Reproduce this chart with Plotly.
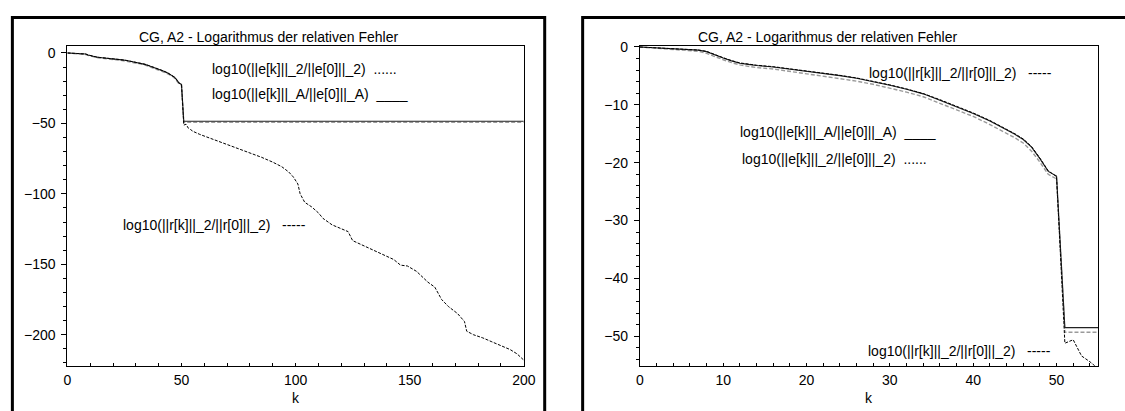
import plotly.graph_objects as go

# ---------------- data ----------------
k_pre = [0, 2, 4, 6, 7, 8, 9, 10, 11, 12, 13, 14, 16, 18, 20, 22, 24, 26, 28, 30,
         32, 34, 36, 38, 40, 42, 44, 45, 46, 47, 48, 49, 50]
eA_pre = [0, -0.15, -0.3, -0.45, -0.55, -0.8, -1.4, -1.9, -2.4, -2.8, -3.0, -3.2, -3.45,
          -3.8, -4.2, -4.55, -4.95, -5.4, -5.95, -6.6, -7.3, -8.1, -9.2, -10.3, -11.5,
          -12.8, -14.3, -15.1, -16.0, -17.3, -19.3, -21.5, -22.3]
e2_pre = [0, -0.2, -0.4, -0.6, -0.75, -1.1, -1.7, -2.2, -2.7, -3.1, -3.35, -3.55, -3.8,
          -4.2, -4.6, -5.0, -5.4, -5.9, -6.45, -7.1, -7.8, -8.6, -9.7, -10.8, -12.0,
          -13.4, -14.9, -15.7, -16.6, -18.0, -19.9, -22.0, -22.8]
r_pre = [0, -0.12, -0.28, -0.42, -0.52, -0.75, -1.35, -1.85, -2.35, -2.75, -2.95, -3.15,
         -3.4, -3.75, -4.15, -4.5, -4.9, -5.35, -5.9, -6.55, -7.25, -8.05, -9.1, -10.2,
         -11.4, -12.7, -14.2, -15.0, -15.9, -17.2, -19.2, -21.4, -22.4]

k_flat = [51, 200]
eA_flat = [-48.5, -48.5]
e2_flat = [-49.3, -49.3]

k_r_post = [51, 52, 53, 54, 55, 58, 62, 65, 70, 75, 80, 85, 90, 94, 97, 99, 101, 102,
            104, 107, 110, 112, 116, 120, 123, 125, 130, 135, 140, 143, 146, 149, 153,
            158, 161, 164, 167, 171, 174, 175, 178, 182, 186, 190, 194, 197, 200]
r_post = [-51.2, -50.6, -53.4, -54.4, -55.6, -57.8, -60.2, -61.8, -64.8, -67.8, -70.9,
          -74.0, -77.5, -80.8, -84.5, -88.0, -93.0, -100.0, -106.0, -109.2, -113.5,
          -117.4, -122.0, -124.5, -126.8, -133.2, -137.0, -140.6, -144.5, -146.6,
          -150.6, -151.2, -155.0, -162.7, -166.2, -175.0, -180.0, -185.0, -190.6,
          -197.5, -200.0, -202.2, -205.0, -207.5, -210.5, -213.5, -218.0]

k_eA = k_pre + k_flat
eA = eA_pre + eA_flat
k_e2 = k_pre + k_flat
e2 = e2_pre + e2_flat
k_r = k_pre + k_r_post
r = r_pre + r_post

title_text = "CG, A2 - Logarithmus der relativen Fehler"
lab_e2 = "log10(||e[k]||_2/||e[0]||_2)\u00a0\u00a0......"
lab_eA = "log10(||e[k]||_A/||e[0]||_A)\u00a0\u00a0____"
lab_r = "log10(||r[k]||_2/||r[0]||_2)\u00a0\u00a0\u00a0-----"

# ---------------- layout helpers ----------------
W, H = 1125, 411
FONT = "Liberation Sans, Arial, Helvetica, sans-serif"


def px(x):
    return x / W


def py(y):
    return (H - y) / H


fig = go.Figure()

for ax in ["1", "2"]:
    xa = "x" if ax == "1" else "x2"
    ya = "y" if ax == "1" else "y2"
    fig.add_trace(go.Scatter(x=k_e2, y=e2, mode="lines", xaxis=xa, yaxis=ya,
                             line=dict(color="#9a9a9a", width=1.4, dash="4px,2px"),
                             showlegend=False, hoverinfo="skip"))
    fig.add_trace(go.Scatter(x=k_eA, y=eA, mode="lines", xaxis=xa, yaxis=ya,
                             line=dict(color="#222222", width=1.1),
                             showlegend=False, hoverinfo="skip"))
    fig.add_trace(go.Scatter(x=k_r, y=r, mode="lines", xaxis=xa, yaxis=ya,
                             line=dict(color="#000000", width=1.0, dash="3px,1.5px"),
                             showlegend=False, hoverinfo="skip"))

common_axis = dict(showline=True, linecolor="black", linewidth=1, mirror=True,
                   showgrid=False, zeroline=False, tickcolor="black",
                   tickfont=dict(family=FONT, size=14, color="black"))

fig.update_layout(
    width=W, height=H, autosize=False,
    margin=dict(l=0, r=0, t=0, b=0),
    paper_bgcolor="white", plot_bgcolor="white",
    showlegend=False,
    xaxis=dict(common_axis, domain=[px(64.3), px(527.3)], range=[0, 200],
               tickvals=[0, 50, 100, 150, 200], ticks="inside", ticklen=3,
               minor=dict(dtick=10, tick0=0, ticks="inside", ticklen=3, tickcolor="black"),
               anchor="y", ticklabelstandoff=1),
    yaxis=dict(common_axis, domain=[py(365.7), py(40)], range=[-222.5, 4.7],
               tickvals=[0, -50, -100, -150, -200], ticks="outside", ticklen=5,
               minor=dict(dtick=10, tick0=0, ticks="outside", ticklen=3, tickcolor="black"),
               anchor="x", ticklabelstandoff=3),
    xaxis2=dict(common_axis, domain=[px(645), px(1110)], range=[0, 55],
                tickvals=[0, 10, 20, 30, 40, 50], ticks="inside", ticklen=3,
                minor=dict(dtick=2, tick0=0, ticks="inside", ticklen=3, tickcolor="black"),
                anchor="y2", ticklabelstandoff=1),
    yaxis2=dict(common_axis, domain=[py(365), py(39.5)], range=[-55.1, 0.2],
                tickvals=[0, -10, -20, -30, -40, -50], ticks="outside", ticklen=5,
                minor=dict(dtick=2, tick0=0, ticks="outside", ticklen=3, tickcolor="black"),
                anchor="x2", ticklabelstandoff=3),
)

# outer frames
fig.add_shape(type="rect", xref="paper", yref="paper",
              x0=px(8.5), x1=px(548.5), y0=py(430), y1=py(10.7),
              line=dict(color="black", width=3), layer="above")
fig.add_shape(type="rect", xref="paper", yref="paper",
              x0=px(587), x1=px(1140), y0=py(430), y1=py(10.7),
              line=dict(color="black", width=3), layer="above")


def ann(text, x, y, xanchor="left", size=14):
    fig.add_annotation(text=text, xref="paper", yref="paper", x=px(x), y=py(y),
                       xanchor=xanchor, yanchor="middle", showarrow=False,
                       font=dict(family=FONT, size=size, color="black"))


# titles
ann(title_text, 268, 31, "center")
ann(title_text, 835, 31, "center")
# x-axis labels
ann("k", 295.8, 398, "center")
ann("k", 877, 398, "center")
# left panel legend texts
ann(lab_e2, 209, 63)
ann(lab_eA, 209, 88)
ann(lab_r, 118.5, 221.7)
# right panel legend texts
ann(lab_r, 875.5, 67)
ann(lab_eA, 744.5, 126.7)
ann(lab_e2, 747, 155)
ann(lab_r, 874, 350)

fig.write_html("out.html", config={"displayModeBar": False},
               post_script="document.body.style.margin='0';")
